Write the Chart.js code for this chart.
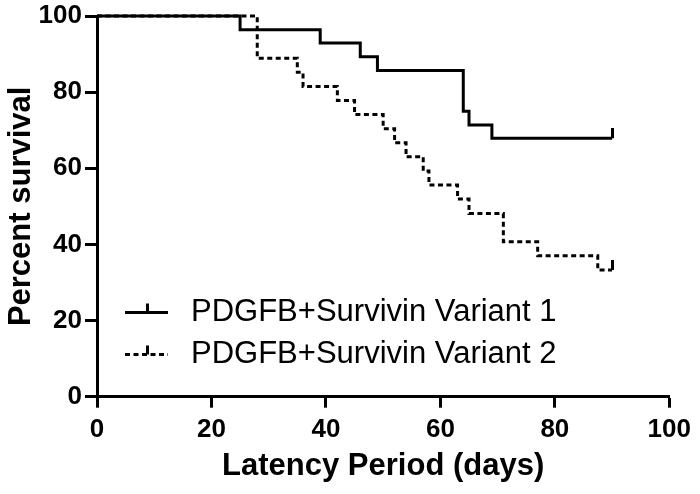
<!DOCTYPE html>
<html>
<head>
<meta charset="utf-8">
<script src="https://cdn.jsdelivr.net/npm/chart.js@4.4.1/dist/chart.umd.min.js"></script>
<style>
  html, body { margin: 0; padding: 0; background: #fff; }
  #wrap { width: 700px; height: 494px; }
</style>
</head>
<body>
<div id="wrap"><canvas id="chart" width="700" height="494"></canvas></div>
<script>
// ── Data ────────────────────────────────────────────────
var seriesLabels = ["PDGFB+Survivin Variant 1", "PDGFB+Survivin Variant 2"];

// Kaplan-Meier steps: day of each drop and the survival after it (last = censored end)
var v1Days    = [0, 25, 39, 46, 49, 64, 65, 69, 90];
var v1Percent = [100, 96.4, 92.9, 89.3, 85.7, 75.0, 71.4, 67.9, 67.9];

var v2Days    = [0, 28, 35, 36, 42, 45, 50, 52, 54, 57, 58, 63, 65, 71, 77, 87.5, 90];
var v2Percent = [100, 88.9, 85.2, 81.5, 77.8, 74.1, 70.4, 66.7, 63.0, 59.3, 55.6, 51.9, 48.1, 40.7, 37.0, 33.3, 33.3];

var xTicks = [0, 20, 40, 60, 80, 100];
var yTicks = [0, 20, 40, 60, 80, 100];

var xTitle = "Latency Period (days)";
var yTitle = "Percent survival";

// ── Helpers ─────────────────────────────────────────────
var FONT = "'Liberation Sans', Arial, sans-serif";
Chart.defaults.font.family = FONT;
Chart.defaults.color = "#000";

function toPoints(xs, ys) {
  return xs.map(function(x, i) { return { x: x, y: ys[i] }; });
}

// censor tick: small vertical bar sitting on top of the line
function makeCensorMark() {
  var c = document.createElement("canvas");
  c.width = 3; c.height = 20;
  var g = c.getContext("2d");
  g.fillStyle = "#000";
  g.fillRect(0, 0, 3, 10);
  return c;
}
var censorMark = makeCensorMark();

function lastOnly(len) {
  return function(ctx) { return ctx.dataIndex === len - 1 ? 3 : 0; };
}

// ── Legend drawn inside the plot ────────────────────────
var kmLegend = {
  id: "kmLegend",
  afterDraw: function(chart) {
    var ctx  = chart.ctx;
    var area = chart.chartArea;
    var rows = [
      { y: area.top + 296.5, dash: [] },
      { y: area.top + 338.5, dash: [5, 3.5] }
    ];
    ctx.save();
    rows.forEach(function(r, i) {
      ctx.strokeStyle = "#000";
      ctx.lineWidth = 3;
      ctx.lineCap = "butt";
      ctx.setLineDash(r.dash);
      ctx.beginPath();
      ctx.moveTo(area.left + 28, r.y);
      ctx.lineTo(area.left + 71, r.y);
      ctx.stroke();
      ctx.setLineDash([]);
      ctx.fillStyle = "#000";
      ctx.fillRect(area.left + 49, r.y - 9, 3, 9);

      ctx.font = "31px " + FONT;
      ctx.textAlign = "left";
      ctx.textBaseline = "middle";
      ctx.fillText(seriesLabels[i], area.left + 94, r.y);
    });
    ctx.restore();
  }
};

new Chart(document.getElementById("chart"), {
  type: "line",
  data: {
    datasets: [{
      label: seriesLabels[0],
      data: toPoints(v1Days, v1Percent),
      stepped: true,
      borderColor: "#000",
      borderWidth: 3,
      borderCapStyle: "butt",
      borderJoinStyle: "miter",
      fill: false,
      pointRadius: lastOnly(v1Days.length),
      pointHoverRadius: 0,
      pointStyle: censorMark,
      clip: false
    }, {
      label: seriesLabels[1],
      data: toPoints(v2Days, v2Percent),
      stepped: true,
      borderColor: "#000",
      borderWidth: 3,
      borderDash: [5, 3.5],
      borderCapStyle: "butt",
      borderJoinStyle: "miter",
      fill: false,
      pointRadius: lastOnly(v2Days.length),
      pointHoverRadius: 0,
      pointStyle: censorMark,
      clip: false
    }]
  },
  options: {
    responsive: false,
    animation: false,
    events: [],
    layout: { padding: { top: 13.5, right: 28, left: 0, bottom: 0 } },
    plugins: {
      legend: { display: false },
      tooltip: { enabled: false }
    },
    scales: {
      x: {
        type: "linear",
        min: 0, max: 100,
        afterBuildTicks: function(axis) {
          axis.ticks = xTicks.map(function(v) { return { value: v }; });
        },
        afterFit: function(s) { s.height = 97.3; },
        border: { display: true, color: "#000", width: 3 },
        grid: { drawOnChartArea: false, drawTicks: true, tickLength: 11, tickWidth: 3, tickColor: "#000" },
        ticks: { color: "#000", font: { size: 26, weight: "bold", lineHeight: 1 }, padding: 9, maxRotation: 0 },
        title: { display: true, text: xTitle, color: "#000",
                 font: { size: 31, weight: "bold", lineHeight: 1.2 }, padding: { top: 0, bottom: 9 } }
      },
      y: {
        min: 0, max: 100,
        afterBuildTicks: function(axis) {
          axis.ticks = yTicks.map(function(v) { return { value: v }; });
        },
        afterFit: function(s) { s.width = 97; },
        border: { display: true, color: "#000", width: 3 },
        grid: { drawOnChartArea: false, drawTicks: true, tickLength: 12, tickWidth: 3, tickColor: "#000" },
        ticks: { color: "#000", font: { size: 26, weight: "bold", lineHeight: 1 }, padding: 3 },
        title: { display: true, text: yTitle, color: "#000",
                 font: { size: 31, weight: "bold", lineHeight: 1.2 }, padding: { top: 3, bottom: 0 } }
      }
    }
  },
  plugins: [kmLegend]
});
</script>
</body>
</html>
